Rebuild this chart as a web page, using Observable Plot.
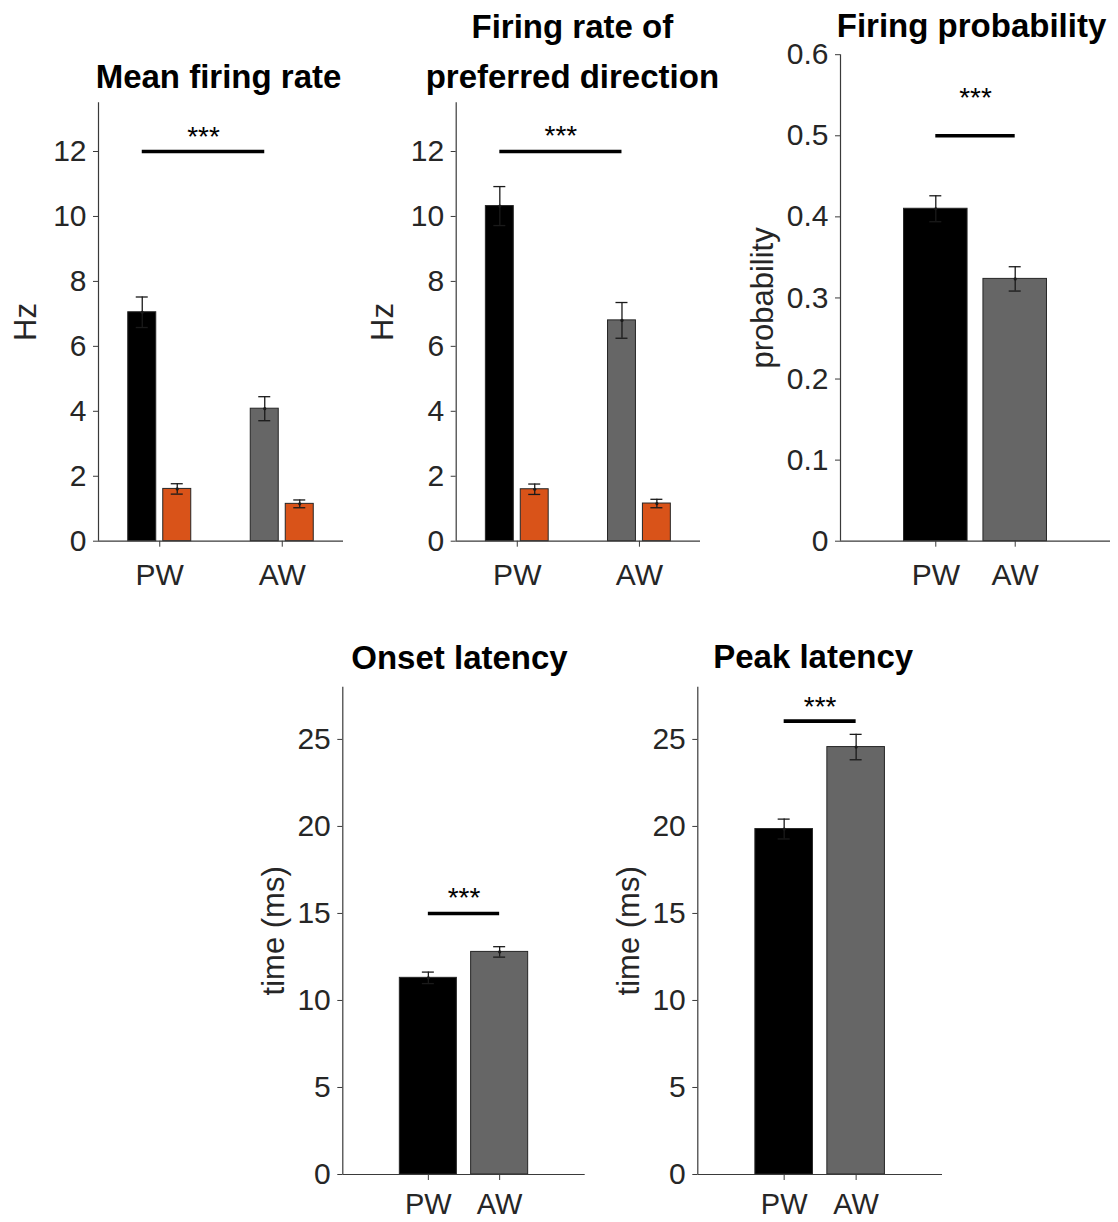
<!DOCTYPE html>
<html>
<head>
<meta charset="utf-8">
<script src="https://cdn.jsdelivr.net/npm/d3@7"></script>
<script src="https://cdn.jsdelivr.net/npm/@observablehq/plot@0.6"></script>
<style>
  body { margin: 0; background: #fff; }
  #root { position: relative; width: 1118px; height: 1222px; overflow: hidden; background: #fff; }
  #root svg { position: absolute; }
</style>
</head>
<body>
<div id="root"></div>
<script>
// ---------------- data ----------------
const groups = ["PW", "AW"];
const groupPos = [1, 2];
const groupColors = ["#000000", "#666666"];
const ctrlColor = "#D95319";

// Mean firing rate (Hz)
const meanRate = [7.05, 4.08];
const meanRateSem = [0.47, 0.37];
const meanRateCtrl = [1.61, 1.15];
const meanRateCtrlSem = [0.16, 0.12];

// Firing rate of preferred direction (Hz)
const prefRate = [10.32, 6.80];
const prefRateSem = [0.60, 0.55];
const prefRateCtrl = [1.60, 1.16];
const prefRateCtrlSem = [0.16, 0.13];

// Firing probability
const fireProb = [0.410, 0.3235];
const fireProbSem = [0.016, 0.015];

// Onset latency (ms)
const onsetLat = [11.30, 12.79];
const onsetLatSem = [0.33, 0.30];

// Peak latency (ms)
const peakLat = [19.85, 24.56];
const peakLatSem = [0.57, 0.73];

// significance bars (one per panel) and star label heights
const sigLabel = "***";
const sigLineY = [12, 12, 0.5, 15, 26.05];
const sigStarY = [12.66, 12.69, 0.555, 16.3, 27.25];

// tick values
const rateTicks = [0, 2, 4, 6, 8, 10, 12];
const probTicks = [0, 0.1, 0.2, 0.3, 0.4, 0.5, 0.6];
const timeTicks = [0, 5, 10, 15, 20, 25];

// titles and axis labels
const titles = ["Mean firing rate", "Firing rate of\npreferred direction", "Firing probability", "Onset latency", "Peak latency"];
const yLabels = ["Hz", "Hz", "probability", "time (ms)", "time (ms)"];

// ---------------- helpers ----------------
const FONT = '"Liberation Sans", Arial, Helvetica, sans-serif';
const INK = "#262626";
const AXIS = "#3a3a3a";
const root = document.getElementById("root");

function groupedRows(main, mainSem, ctrl, ctrlSem) {
  const groupWidth = Math.min(0.8, 2 / (2 + 1.5));
  const off = groupWidth / 4, bw = (groupWidth / 2) * 0.8;
  return groups.flatMap((g, i) => [
    {x: groupPos[i] - off, w: bw, v: main[i], e: mainSem[i], fill: groupColors[i], main: true},
    {x: groupPos[i] + off, w: bw, v: ctrl[i], e: ctrlSem[i], fill: ctrlColor, main: false}
  ]);
}
function singleRows(vals, sems) {
  return groups.map((g, i) => ({x: groupPos[i], w: 0.8, v: vals[i], e: sems[i], fill: groupColors[i], main: true}));
}

function panel(cfg) {
  const {idx, box, frame, xDomain, yDomain, yTicks, rows, titleGap, titleDx, titleLineHeight, labelOffset, xPad, xFont} = cfg;
  const [x0, y0, w, h] = box;
  const [l, r, t, b] = frame;
  const pxPerUnit = (r - l) / (xDomain[1] - xDomain[0]);
  const cap = 6 / pxPerUnit;
  const mains = rows.filter(d => d.main);
  const sig = [{x1: mains[0].x, x2: mains[1].x, y: sigLineY[idx], sy: sigStarY[idx], label: sigLabel}];
  const plot = Plot.plot({
    width: w, height: h,
    marginLeft: l - x0, marginRight: x0 + w - r,
    marginTop: t - y0, marginBottom: y0 + h - b,
    x: {type: "linear", domain: xDomain},
    y: {type: "linear", domain: yDomain},
    color: {type: "identity"},
    style: {fontFamily: FONT, fontSize: "30px", color: INK, background: "transparent", overflow: "visible"},
    marks: [
      Plot.rect(rows, {x1: d => d.x - d.w / 2, x2: d => d.x + d.w / 2, y1: 0, y2: "v", fill: "fill", stroke: "#262626", strokeWidth: 1}),
      Plot.ruleX(rows, {x: "x", y1: d => d.v - d.e, y2: d => d.v + d.e, stroke: "#1a1a1a", strokeWidth: 1.3}),
      Plot.ruleY(rows, {y: d => d.v + d.e, x1: d => d.x - cap, x2: d => d.x + cap, stroke: "#1a1a1a", strokeWidth: 1.3}),
      Plot.ruleY(rows, {y: d => d.v - d.e, x1: d => d.x - cap, x2: d => d.x + cap, stroke: "#1a1a1a", strokeWidth: 1.3}),
      Plot.dot(rows, {x: "x", y: "v", r: 1.6, fill: "#1a1a1a"}),
      Plot.ruleX([xDomain[0]], {stroke: AXIS, strokeWidth: 1.2}),
      Plot.ruleY([0], {stroke: AXIS, strokeWidth: 1.2}),
      Plot.axisY(yTicks, {tickSize: 5, tickPadding: 7, label: null, stroke: AXIS, tickFormat: d => String(d)}),
      Plot.axisX(groupPos, {tickSize: 6, tickPadding: xPad, fontSize: xFont, label: null, stroke: AXIS, tickFormat: d => groups[groupPos.indexOf(d)]}),
      Plot.ruleY(sig, {y: "y", x1: "x1", x2: "x2", stroke: "#000", strokeWidth: 3.6}),
      Plot.text(sig, {x: d => (d.x1 + d.x2) / 2, y: "sy", text: "label", fontSize: 28, dy: 7, fill: "#000", lineAnchor: "middle", textAnchor: "middle"}),
      Plot.text([titles[idx]], {frameAnchor: "top", textAnchor: "middle", lineAnchor: "bottom", dy: -titleGap, dx: titleDx, fontSize: 33, fontWeight: "bold", fill: "#000", lineHeight: titleLineHeight || 1}),
      Plot.text([yLabels[idx]], {frameAnchor: "left", textAnchor: "middle", lineAnchor: "middle", rotate: -90, dx: -labelOffset, fontSize: 31, fill: INK})
    ]
  });
  plot.style.left = x0 + "px";
  plot.style.top = y0 + "px";
  root.appendChild(plot);
}

// ---------------- panels ----------------
panel({idx: 0, box: [0, 40, 360, 560], frame: [98, 343, 102.3, 540.7],
  xDomain: [0.5, 2.5], yDomain: [0, 13.5], yTicks: rateTicks,
  rows: groupedRows(meanRate, meanRateSem, meanRateCtrl, meanRateCtrlSem),
  titleGap: 14.6, titleDx: -2.5, labelOffset: 72, xPad: 16, xFont: 30});

panel({idx: 1, box: [360, 0, 358, 600], frame: [455.7, 700, 102.3, 540.7],
  xDomain: [0.5, 2.5], yDomain: [0, 13.5], yTicks: rateTicks,
  rows: groupedRows(prefRate, prefRateSem, prefRateCtrl, prefRateCtrlSem),
  titleGap: 15.3, titleDx: -6, titleLineHeight: 1.5, labelOffset: 73, xPad: 16, xFont: 30});

panel({idx: 2, box: [720, 0, 398, 600], frame: [840, 1110, 54.2, 540.7],
  xDomain: [-0.2, 3.2], yDomain: [0, 0.6], yTicks: probTicks,
  rows: singleRows(fireProb, fireProbSem),
  titleGap: 18, titleDx: -4, labelOffset: 77, xPad: 16, xFont: 30});

panel({idx: 3, box: [240, 620, 360, 602], frame: [342.3, 584.7, 686.7, 1174],
  xDomain: [-0.2, 3.2], yDomain: [0, 28], yTicks: timeTicks,
  rows: singleRows(onsetLat, onsetLatSem),
  titleGap: 18, titleDx: -4.5, labelOffset: 69, xPad: 13, xFont: 29});

panel({idx: 4, box: [600, 620, 360, 602], frame: [697.3, 942, 686.7, 1174],
  xDomain: [-0.2, 3.2], yDomain: [0, 28], yTicks: timeTicks,
  rows: singleRows(peakLat, peakLatSem),
  titleGap: 19, titleDx: -7, labelOffset: 69, xPad: 13, xFont: 29});
</script>
</body>
</html>
